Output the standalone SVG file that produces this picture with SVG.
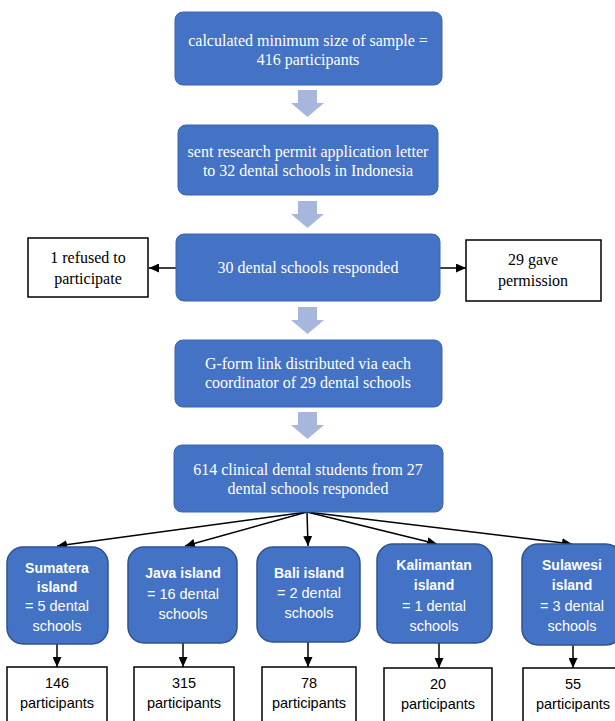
<svg xmlns="http://www.w3.org/2000/svg" width="615" height="721" viewBox="0 0 615 721">
<defs>
<style>
.main{fill:#4472C4;stroke:#3A64B0;stroke-width:1}
.isl{fill:#4472C4;stroke:#2F528F;stroke-width:1.5}
.wbox{fill:#FFFFFF;stroke:#000000;stroke-width:1.5}
.blk{fill:#A7B6DB}
.ser{font-family:"Liberation Serif","Times New Roman",serif;font-size:16px;text-anchor:middle}
.wt{fill:#FFFFFF}
.bt{fill:#000000}
.san{font-family:"Liberation Sans",Arial,sans-serif;font-size:14.5px;text-anchor:middle}
.b{font-weight:bold;font-size:14px}
.con{stroke:#000000;stroke-width:1.5;fill:none}
</style>
<marker id="ah" markerUnits="userSpaceOnUse" markerWidth="10" markerHeight="9" refX="10" refY="4.5" orient="auto">
<path d="M0,0 L10,4.5 L0,9 z" fill="#000000"/>
</marker>
</defs>
<rect width="615" height="721" fill="#FFFFFF"/>

<g id="connectors">
<path class="blk" d="M298,90 h19 v13 h7 l-16.5,14 l-16.5,-14 h7 z"/>
<path class="blk" d="M298,201 h19 v13 h7 l-16.5,14 l-16.5,-14 h7 z"/>
<path class="blk" d="M298,307 h19 v13 h7 l-16.5,14 l-16.5,-14 h7 z"/>
<path class="blk" d="M298,412 h19 v13 h7 l-16.5,14 l-16.5,-14 h7 z"/>
<line class="con" x1="176" y1="268" x2="149" y2="268" marker-end="url(#ah)"/>
<line class="con" x1="440" y1="268" x2="466" y2="268" marker-end="url(#ah)"/>
<line class="con" x1="307" y1="512" x2="57" y2="546" marker-end="url(#ah)"/>
<line class="con" x1="307" y1="512" x2="185" y2="546" marker-end="url(#ah)"/>
<line class="con" x1="307" y1="512" x2="308" y2="546" marker-end="url(#ah)"/>
<line class="con" x1="307" y1="512" x2="437" y2="544" marker-end="url(#ah)"/>
<line class="con" x1="307" y1="512" x2="572" y2="544" marker-end="url(#ah)"/>
<line class="con" x1="57" y1="644" x2="57" y2="667" marker-end="url(#ah)"/>
<line class="con" x1="183" y1="643" x2="183" y2="667" marker-end="url(#ah)"/>
<line class="con" x1="308" y1="642" x2="308" y2="667" marker-end="url(#ah)"/>
<line class="con" x1="439" y1="643" x2="439" y2="668" marker-end="url(#ah)"/>
<line class="con" x1="573" y1="645" x2="573" y2="668" marker-end="url(#ah)"/>
</g>

<g id="n1">
<rect class="main" x="175" y="12" width="267" height="73" rx="8"/>
<text class="ser wt" x="308" y="46">calculated minimum size of sample =</text>
<text class="ser wt" x="308" y="65">416 participants</text>
</g>
<g id="n2">
<rect class="main" x="178" y="125" width="260" height="70" rx="8"/>
<text class="ser wt" x="308" y="157">sent research permit application letter</text>
<text class="ser wt" x="308" y="176">to 32 dental schools in Indonesia</text>
</g>
<g id="n3">
<rect class="main" x="176" y="234" width="264" height="67" rx="8"/>
<text class="ser wt" x="308" y="273">30 dental schools responded</text>
</g>
<g id="n3a">
<rect class="wbox" x="28" y="238" width="120" height="59"/>
<text class="ser bt" x="88" y="263">1 refused to</text>
<text class="ser bt" x="88" y="284">participate</text>
</g>
<g id="n3b">
<rect class="wbox" x="466" y="240" width="135" height="61"/>
<text class="ser bt" x="533" y="265">29 gave</text>
<text class="ser bt" x="533" y="286">permission</text>
</g>
<g id="n4">
<rect class="main" x="175" y="340" width="267" height="67" rx="8"/>
<text class="ser wt" x="308" y="369">G-form link distributed via each</text>
<text class="ser wt" x="308" y="388">coordinator of 29 dental schools</text>
</g>
<g id="n5">
<rect class="main" x="174" y="445" width="269" height="67" rx="8"/>
<text class="ser wt" x="308" y="475">614 clinical dental students from 27</text>
<text class="ser wt" x="308" y="494">dental schools responded</text>
</g>

<g id="sumatera">
<rect class="isl" x="7" y="547" width="101" height="97" rx="16"/>
<text class="san wt b" x="57" y="573">Sumatera</text>
<text class="san wt b" x="57" y="592">island</text>
<text class="san wt" x="57" y="611">= 5 dental</text>
<text class="san wt" x="57" y="631">schools</text>
</g>
<g id="java">
<rect class="isl" x="128" y="547" width="109" height="96" rx="16"/>
<text class="san wt b" x="183" y="578">Java island</text>
<text class="san wt" x="183" y="599">= 16 dental</text>
<text class="san wt" x="183" y="619">schools</text>
</g>
<g id="bali">
<rect class="isl" x="257" y="547" width="103" height="95" rx="16"/>
<text class="san wt b" x="309" y="578">Bali island</text>
<text class="san wt" x="309" y="598">= 2 dental</text>
<text class="san wt" x="309" y="618">schools</text>
</g>
<g id="kalimantan">
<rect class="isl" x="377" y="544" width="115" height="99" rx="16"/>
<text class="san wt b" x="434" y="570">Kalimantan</text>
<text class="san wt b" x="434" y="590">island</text>
<text class="san wt" x="434" y="611">= 1 dental</text>
<text class="san wt" x="434" y="631">schools</text>
</g>
<g id="sulawesi">
<rect class="isl" x="522" y="544" width="100" height="101" rx="16"/>
<text class="san wt b" x="572" y="570">Sulawesi</text>
<text class="san wt b" x="572" y="590">island</text>
<text class="san wt" x="572" y="611">= 3 dental</text>
<text class="san wt" x="572" y="631">schools</text>
</g>

<g id="p146">
<rect class="wbox" x="7" y="667" width="100" height="64"/>
<text class="san bt" x="57" y="688">146</text>
<text class="san bt" x="57" y="708">participants</text>
</g>
<g id="p315">
<rect class="wbox" x="134" y="667" width="100" height="64"/>
<text class="san bt" x="184" y="688">315</text>
<text class="san bt" x="184" y="708">participants</text>
</g>
<g id="p78">
<rect class="wbox" x="262" y="667" width="94" height="64"/>
<text class="san bt" x="309" y="688">78</text>
<text class="san bt" x="309" y="708">participants</text>
</g>
<g id="p20">
<rect class="wbox" x="384" y="668" width="108" height="64"/>
<text class="san bt" x="438" y="689">20</text>
<text class="san bt" x="438" y="709">participants</text>
</g>
<g id="p55">
<rect class="wbox" x="523" y="668" width="100" height="64"/>
<text class="san bt" x="573" y="689">55</text>
<text class="san bt" x="573" y="709">participants</text>
</g>
</svg>
